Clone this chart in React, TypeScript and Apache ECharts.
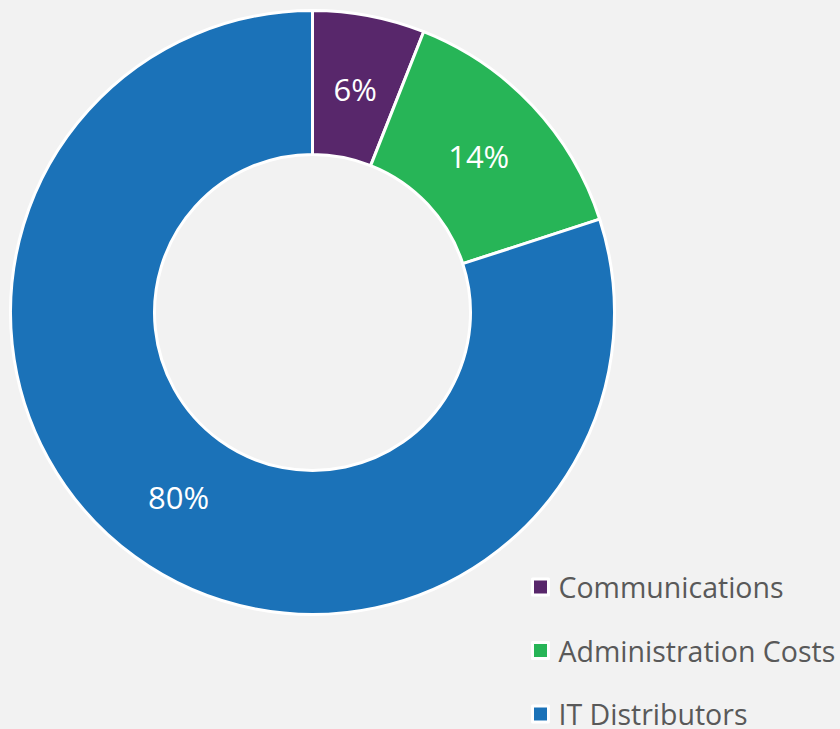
import React, { useEffect, useRef } from "react";
import * as echarts from "echarts";

const categories = ["Communications", "Administration Costs", "IT Distributors"];
const values = [6, 14, 80];
const colors = ["#58276B", "#27B557", "#1B72B8"];

export default function App() {
  const ref = useRef<HTMLDivElement>(null);
  useEffect(() => {
    if (!ref.current) return;
    const chart = echarts.init(ref.current, null, { renderer: "svg" });
    const data = categories.map((name, i) => ({ name, value: values[i], itemStyle: { color: colors[i] } }));
    chart.setOption({
      animation: false,
      backgroundColor: "#F2F2F2",
      legend: {
        orient: "vertical",
        left: 531,
        top: 572,
        padding: 0,
        height: 157,
        icon: "rect",
        itemWidth: 16,
        itemHeight: 16,
        itemGap: 33.5,
        itemStyle: { borderColor: "#FFFFFF", borderWidth: 3 },
        textStyle: {
          fontFamily: "Open Sans",
          fontSize: 28.5,
          color: "#595959",
          lineHeight: 30,
          padding: [0, 0, 0, 5],
        },
        data: categories,
      },
      series: [
        {
          type: "pie",
          center: [312.5, 312.5],
          radius: [158, 302],
          startAngle: 90,
          clockwise: true,
          itemStyle: { borderColor: "#FFFFFF", borderWidth: 3 },
          label: { show: false },
          labelLine: { show: false },
          emphasis: { disabled: true },
          data,
        },
        {
          type: "pie",
          center: [312.5, 312.5],
          radius: [158, 292],
          startAngle: 90,
          clockwise: true,
          silent: true,
          itemStyle: { color: "transparent", borderWidth: 0 },
          label: {
            show: true,
            position: "inside",
            formatter: "{d}%",
            color: "#FFFFFF",
            fontFamily: "Open Sans",
            fontSize: 31,
          },
          labelLine: { show: false },
          emphasis: { disabled: true },
          data: categories.map((name, i) => ({ name, value: values[i] })),
        },
      ],
    });
    return () => chart.dispose();
  }, []);
  return <div ref={ref} style={{ position: "fixed", left: 0, top: 0, width: 840, height: 729 }} />;
}
